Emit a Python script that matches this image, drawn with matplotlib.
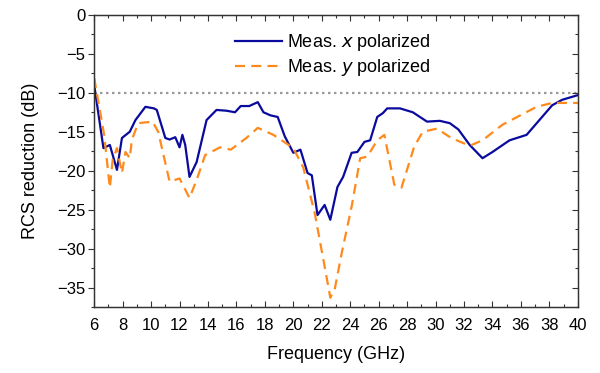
import matplotlib.pyplot as plt
from matplotlib.ticker import MultipleLocator

plt.rcParams['font.family'] = ['Liberation Sans', 'DejaVu Sans']

# measured RCS reduction, x polarization
freq_x = [6.0, 6.65, 7.1, 7.6, 7.95, 8.5, 8.9, 9.6, 10.2, 10.4, 11.0, 11.3, 11.7,
          12.0, 12.2, 12.4, 12.7, 13.2, 13.9, 14.6, 15.3, 15.9, 16.3, 16.9, 17.5,
          17.9, 18.4, 18.9, 19.4, 20.0, 20.5, 21.0, 21.3, 21.7, 22.2, 22.6, 23.1,
          23.5, 24.1, 24.5, 25.0, 25.4, 25.9, 26.3, 26.6, 27.5, 28.4, 29.4, 30.3,
          31.0, 31.6, 32.4, 33.3, 34.0, 35.2, 36.4, 37.3, 38.2, 38.9, 40.0]
rcs_x = [-9.0, -17.1, -16.7, -19.9, -15.8, -15.0, -13.5, -11.8, -12.0, -12.2, -15.8,
         -16.0, -15.7, -17.0, -15.4, -16.7, -20.8, -18.9, -13.5, -12.2, -12.3, -12.5,
         -11.7, -11.7, -11.2, -12.5, -12.9, -13.1, -15.6, -17.7, -17.3, -20.3, -20.6,
         -25.7, -24.4, -26.3, -22.1, -20.8, -17.7, -17.6, -16.3, -16.1, -13.1, -12.6,
         -12.0, -12.0, -12.5, -13.7, -13.6, -13.9, -14.7, -16.7, -18.4, -17.6, -16.1,
         -15.4, -13.5, -11.6, -10.9, -10.3]

# measured RCS reduction, y polarization
freq_y = [6.0, 6.7, 7.1, 7.3, 7.6, 7.95, 8.2, 8.5, 8.65, 9.1, 10.1, 10.5, 11.3,
          12.0, 12.7, 13.2, 13.8, 14.85, 15.6, 16.7, 17.5, 18.6, 19.1, 20.0, 20.7,
          21.5, 22.2, 22.6, 22.9, 23.4, 24.1, 24.7, 25.2, 25.9, 26.4, 27.1, 27.6,
          28.5, 29.1, 30.1, 31.1, 32.4, 33.3, 34.7, 37.1, 38.2, 40.0]
rcs_y = [-8.1, -15.4, -22.2, -18.6, -17.1, -20.3, -17.6, -18.4, -16.0, -13.9, -13.7,
         -15.0, -21.4, -21.0, -23.5, -21.2, -18.0, -17.0, -17.3, -15.8, -14.5, -15.4,
         -16.0, -17.1, -19.6, -25.4, -32.3, -36.3, -35.3, -30.6, -24.6, -18.4, -18.2,
         -16.1, -15.4, -21.8, -22.2, -16.9, -15.0, -14.6, -15.8, -16.8, -16.1, -14.1,
         -11.8, -11.3, -11.3]

ref_level = -10
yticks = list(range(0, -40, -5))
ytick_labels = ['0'] + ['\u2212%d' % -v for v in yticks[1:]]

fig = plt.figure(figsize=(6, 3.73), dpi=100)
ax = fig.add_axes([0.157, 0.177, 0.806, 0.783])

ax.plot([6, 40], [ref_level, ref_level], color='#999999', lw=1.6, ls=(0, (1.1, 1.6)))
ax.plot(freq_x, rcs_x, color='#0a0a9e', lw=1.6, label='Meas. $\\mathit{x}$ polarized')
ax.plot(freq_y, rcs_y, color='#ff8a1c', lw=1.6, ls=(0, (4.5, 2.8)),
        label='Meas. $\\mathit{y}$ polarized')

ax.set_xlim(6, 40)
ax.set_ylim(-37.5, 0)
ax.xaxis.set_major_locator(MultipleLocator(2))
ax.xaxis.set_minor_locator(MultipleLocator(1))
ax.set_yticks(yticks)
ax.set_yticklabels(ytick_labels)
ax.yaxis.set_minor_locator(MultipleLocator(2.5))

tick_col = '#333333'
ax.tick_params(axis='both', which='both', labelsize=12, width=0.8, color=tick_col)
ax.tick_params(axis='both', which='major', length=4.5)
ax.tick_params(axis='both', which='minor', length=2.5)
ax.tick_params(axis='x', which='both', direction='in', top=True, pad=8)
ax.tick_params(axis='y', which='both', direction='out', pad=2)

# inward ticks on the right spine
ax_r = ax.twinx()
ax_r.set_ylim(ax.get_ylim())
ax_r.yaxis.set_major_locator(MultipleLocator(5))
ax_r.yaxis.set_minor_locator(MultipleLocator(2.5))
ax_r.tick_params(axis='y', which='both', direction='in', labelright=False,
                 width=0.8, color=tick_col)
ax_r.tick_params(axis='y', which='major', length=4.5)
ax_r.tick_params(axis='y', which='minor', length=2.5)

for a in (ax, ax_r):
    for s in a.spines.values():
        s.set_color(tick_col)
        s.set_linewidth(0.9)

ax.set_xlabel('Frequency (GHz)', fontsize=13, labelpad=9)
ax.set_ylabel('RCS reduction (dB)', fontsize=13, labelpad=13)

ax.legend(loc='upper left', bbox_to_anchor=(0.265, 0.985), frameon=False,
          fontsize=13, handlelength=2.6, handletextpad=0.3, labelspacing=0.25,
          borderpad=0.2)

fig.savefig('out.png', dpi=100)
